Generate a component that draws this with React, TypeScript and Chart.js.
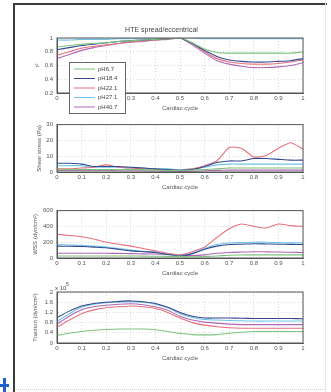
import React, { useEffect, useRef } from "react";
import { Chart, registerables } from "chart.js";

Chart.register(...registerables);

const FONT = "'Liberation Sans', Arial, sans-serif";

const CYCLE = [0, 0.05, 0.1, 0.15, 0.2, 0.25, 0.3, 0.35, 0.4, 0.45, 0.5, 0.55, 0.6, 0.65, 0.7, 0.75, 0.8, 0.85, 0.9, 0.95, 1];
const SERIES_NAMES = ["pH6.7", "pH18.4", "pH22.1", "pH27.1", "pH40.7"];
const SERIES_COLORS = ["#7cc47c", "#34488f", "#e6707c", "#6cc4e8", "#b066b6"];
const MAIN_TITLE = "HTE spread/eccentrical";
const X_TITLE = "Cardiac cycle";
const Y_TITLES = ["r²", "Shear stress (Pa)", "WSS (dyn/cm²)", "Traction (dyn/cm²)"];

// Panel 1: r²
const R2_S1 = [0.87, 0.89, 0.91, 0.92, 0.93, 0.95, 0.96, 0.97, 0.98, 0.99, 1, 0.93, 0.84, 0.79, 0.78, 0.78, 0.78, 0.78, 0.78, 0.78, 0.8];
const R2_S2 = [0.83, 0.86, 0.89, 0.91, 0.93, 0.95, 0.96, 0.97, 0.98, 0.99, 1, 0.92, 0.82, 0.73, 0.68, 0.66, 0.65, 0.65, 0.66, 0.67, 0.7];
const R2_S3 = [0.75, 0.8, 0.85, 0.88, 0.9, 0.92, 0.94, 0.96, 0.97, 0.99, 1, 0.92, 0.8, 0.7, 0.65, 0.63, 0.62, 0.62, 0.63, 0.65, 0.68];
const R2_S4 = [0.97, 0.97, 0.98, 0.98, 0.98, 0.99, 0.99, 0.99, 1, 1, 1, 1, 0.99, 0.99, 0.99, 0.99, 0.99, 0.99, 0.99, 0.99, 0.99];
const R2_S5 = [0.7, 0.76, 0.82, 0.86, 0.89, 0.92, 0.94, 0.95, 0.97, 0.98, 1, 0.9, 0.78, 0.67, 0.62, 0.59, 0.57, 0.57, 0.58, 0.6, 0.64];

// Panel 2: shear stress
const SS_S1 = [1.5, 1.5, 1.5, 1.5, 1.5, 1.5, 1.5, 1.5, 1.2, 1, 1, 1.2, 1.5, 2, 2.5, 2.5, 2.5, 2.5, 2.5, 2.5, 2.5];
const SS_S2 = [5.5, 5.5, 5, 3.5, 3.5, 3.5, 3, 2.5, 2, 1.5, 1, 1.5, 3.5, 6, 7, 7, 8.5, 8.5, 8, 7.5, 7.5];
const SS_S3 = [2, 2, 2.5, 3, 4.5, 3, 2.5, 2, 1.5, 1.5, 1, 2, 4, 7, 15.5, 15, 9.5, 10.5, 15, 18.5, 14.5];
const SS_S4 = [4, 4, 4, 3, 3, 3, 2.5, 2.5, 2, 2, 1.5, 2, 3, 4.5, 5, 5, 5, 5, 5, 5, 5];
const SS_S5 = [1, 1, 1, 1, 1, 0.8, 0.8, 0.8, 0.6, 0.5, 0.4, 0.5, 0.8, 1, 1.2, 1.2, 1.2, 1.2, 1.2, 1.2, 1.2];

// Panel 3: WSS
const WSS_S1 = [25, 25, 25, 25, 25, 25, 25, 24, 22, 21, 20, 15, 20, 25, 35, 38, 40, 40, 40, 40, 40];
const WSS_S2 = [150, 148, 145, 138, 130, 110, 90, 80, 70, 45, 25, 55, 110, 150, 170, 175, 180, 178, 175, 172, 170];
const WSS_S3 = [300, 285, 270, 240, 200, 175, 150, 120, 90, 60, 40, 80, 140, 260, 370, 430, 400, 380, 430, 410, 400];
const WSS_S4 = [170, 165, 160, 150, 140, 120, 100, 85, 75, 50, 30, 60, 120, 170, 190, 195, 200, 200, 195, 192, 190];
const WSS_S5 = [60, 60, 60, 60, 60, 58, 55, 52, 50, 45, 40, 30, 40, 60, 70, 75, 80, 78, 75, 72, 70];

// Panel 4: traction (x 10^5)
const TR_S1 = [0.3, 0.38, 0.45, 0.5, 0.53, 0.55, 0.55, 0.55, 0.52, 0.45, 0.38, 0.33, 0.32, 0.33, 0.38, 0.42, 0.45, 0.45, 0.45, 0.45, 0.45];
const TR_S2 = [1.0, 1.25, 1.45, 1.55, 1.6, 1.63, 1.65, 1.62, 1.55, 1.4, 1.2, 1.05, 0.98, 0.98, 0.98, 0.97, 0.96, 0.96, 0.96, 0.96, 0.95];
const TR_S3 = [0.62, 0.9, 1.15, 1.3, 1.38, 1.42, 1.45, 1.42, 1.35, 1.2, 0.98, 0.8, 0.7, 0.64, 0.6, 0.58, 0.58, 0.58, 0.58, 0.58, 0.58];
const TR_S4 = [0.85, 1.15, 1.4, 1.52, 1.58, 1.6, 1.62, 1.6, 1.52, 1.38, 1.15, 1.0, 0.92, 0.9, 0.88, 0.87, 0.86, 0.86, 0.86, 0.86, 0.86];
const TR_S5 = [0.75, 1.05, 1.3, 1.42, 1.48, 1.52, 1.54, 1.5, 1.42, 1.28, 1.05, 0.9, 0.82, 0.78, 0.74, 0.72, 0.72, 0.72, 0.72, 0.72, 0.72];

const CANVAS_LEFT = 20;
const CANVAS_W = 300;

const fmt = (v: any) => String(Math.round(Number(v) * 1000) / 1000);

const framePlugin = {
  id: "frame",
  afterDatasetsDraw(chart: any) {
    const { ctx, chartArea: a } = chart;
    ctx.save();
    ctx.strokeStyle = "#555";
    ctx.lineWidth = 1;
    ctx.strokeRect(a.left, a.top, a.right - a.left, a.bottom - a.top);
    ctx.restore();
  },
};

const legendPlugin = {
  id: "boxLegend",
  afterDraw(chart: any) {
    const ctx = chart.ctx;
    const bx = 49, by = 44, bw = 56, bh = 51;
    ctx.save();
    ctx.fillStyle = "#fff";
    ctx.fillRect(bx, by, bw, bh);
    ctx.strokeStyle = "#666";
    ctx.lineWidth = 1;
    ctx.strokeRect(bx + 0.5, by + 0.5, bw, bh);
    ctx.font = `6px ${FONT}`;
    ctx.textBaseline = "middle";
    chart.data.datasets.forEach((ds: any, i: number) => {
      const y = by + 7 + i * 9.5;
      ctx.strokeStyle = ds.borderColor;
      ctx.lineWidth = 1;
      ctx.beginPath();
      ctx.moveTo(bx + 5, y);
      ctx.lineTo(bx + 26, y);
      ctx.stroke();
      ctx.fillStyle = "#444";
      ctx.fillText(ds.label, bx + 29, y);
    });
    ctx.restore();
  },
};

const exponentPlugin = {
  id: "exponent",
  afterDraw(chart: any) {
    const ctx = chart.ctx;
    ctx.save();
    ctx.fillStyle = "#444";
    ctx.font = `6px ${FONT}`;
    ctx.textBaseline = "alphabetic";
    ctx.fillText("x 10", 35, 10);
    ctx.font = `5px ${FONT}`;
    ctx.fillText("5", 46, 6);
    ctx.restore();
  },
};

type PanelCfg = {
  series: number[][];
  yMin: number;
  yMax: number;
  yStep: number;
  yTitle: string;
  yTitlePad: number;
  padTop: number;
  title?: string;
  plugins: any[];
};

function buildConfig(cfg: PanelCfg): any {
  const tickFont = { size: 6, family: FONT };
  return {
    type: "line",
    data: {
      datasets: cfg.series.map((vals, i) => ({
        label: SERIES_NAMES[i],
        data: vals.map((v, j) => ({ x: CYCLE[j], y: v })),
        borderColor: SERIES_COLORS[i],
        backgroundColor: SERIES_COLORS[i],
        borderWidth: 1.1,
        pointRadius: 0,
        tension: 0.2,
        fill: false,
      })),
    },
    options: {
      responsive: false,
      animation: false,
      devicePixelRatio: 1,
      layout: { padding: { top: cfg.padTop, right: 17, bottom: 2, left: 0 } },
      plugins: {
        legend: { display: false },
        tooltip: { enabled: false },
        title: cfg.title
          ? {
              display: true,
              text: cfg.title,
              color: "#444",
              font: { size: 7, family: FONT, weight: "normal" },
              padding: { top: 7.6, bottom: 4 },
            }
          : { display: false },
      },
      scales: {
        x: {
          type: "linear",
          min: 0,
          max: 1,
          afterFit: (s: any) => {
            s.height = 20;
          },
          ticks: {
            stepSize: 0.1,
            autoSkip: false,
            maxRotation: 0,
            font: tickFont,
            color: "#555",
            padding: 1.5,
            callback: fmt,
          },
          grid: { color: "#cfcfcf", drawTicks: false, lineWidth: 0.8 },
          border: { display: true, color: "#555", dash: [1, 2] },
          title: {
            display: true,
            text: X_TITLE,
            color: "#555",
            font: tickFont,
            padding: { top: 0, bottom: 1 },
          },
        },
        y: {
          type: "linear",
          min: cfg.yMin,
          max: cfg.yMax,
          afterFit: (s: any) => {
            s.width = 37;
          },
          ticks: {
            stepSize: cfg.yStep,
            font: tickFont,
            color: "#555",
            padding: 4,
            callback: fmt,
          },
          grid: { color: "#cfcfcf", drawTicks: false, lineWidth: 0.8 },
          border: { display: true, color: "#555", dash: [1, 2] },
          title: {
            display: true,
            text: cfg.yTitle,
            color: "#555",
            font: tickFont,
            padding: { top: cfg.yTitlePad, bottom: 0 },
          },
        },
      },
    },
    plugins: [framePlugin, ...cfg.plugins],
  };
}

function Panel({ top, height, cfg }: { top: number; height: number; cfg: PanelCfg }) {
  const ref = useRef<HTMLCanvasElement>(null);
  useEffect(() => {
    const chart = new Chart(ref.current as HTMLCanvasElement, buildConfig(cfg));
    return () => chart.destroy();
  }, []);
  return (
    <div style={{ position: "absolute", left: CANVAS_LEFT, top, width: CANVAS_W, height }}>
      <canvas ref={ref} width={CANVAS_W} height={height} style={{ display: "block", width: CANVAS_W, height }} />
    </div>
  );
}

export default function App() {
  const panels: { top: number; height: number; cfg: PanelCfg }[] = [
    {
      top: 18,
      height: 97,
      cfg: {
        series: [R2_S1, R2_S2, R2_S3, R2_S4, R2_S5],
        yMin: 0.2, yMax: 1, yStep: 0.2,
        yTitle: Y_TITLES[0], yTitlePad: 13.4, padTop: 0,
        title: MAIN_TITLE,
        plugins: [legendPlugin],
      },
    },
    {
      top: 117,
      height: 77,
      cfg: {
        series: [SS_S1, SS_S2, SS_S3, SS_S4, SS_S5],
        yMin: 0, yMax: 30, yStep: 10,
        yTitle: Y_TITLES[1], yTitlePad: 15.4, padTop: 6,
        plugins: [],
      },
    },
    {
      top: 203,
      height: 77,
      cfg: {
        series: [WSS_S1, WSS_S2, WSS_S3, WSS_S4, WSS_S5],
        yMin: 0, yMax: 600, yStep: 200,
        yTitle: Y_TITLES[2], yTitlePad: 11.4, padTop: 6,
        plugins: [],
      },
    },
    {
      top: 280,
      height: 85,
      cfg: {
        series: [TR_S1, TR_S2, TR_S3, TR_S4, TR_S5],
        yMin: 0, yMax: 2, yStep: 0.4,
        yTitle: Y_TITLES[3], yTitlePad: 11.4, padTop: 12,
        plugins: [exponentPlugin],
      },
    },
  ];
  return (
    <div style={{ position: "absolute", left: 0, top: 0, width: 331, height: 392, background: "#fff", overflow: "hidden" }}>
      <div style={{ position: "absolute", left: 13, top: 3, width: 2, height: 389, background: "#3a3a3a" }} />
      <div style={{ position: "absolute", left: 13, top: 3, width: 314, height: 2, background: "#3a3a3a" }} />
      <div style={{ position: "absolute", left: 325, top: 0, width: 1, height: 392, background: "#e8e8e8" }} />
      <div style={{ position: "absolute", left: 16, top: 389, width: 309, height: 0, borderTop: "1px dotted #cfcfcf" }} />
      <div style={{ position: "absolute", left: 0, top: 384, width: 9, height: 3, background: "#1f5fc8" }} />
      <div style={{ position: "absolute", left: 3, top: 378, width: 3, height: 14, background: "#1f5fc8" }} />
      {panels.map((p, i) => (
        <Panel key={i} top={p.top} height={p.height} cfg={p.cfg} />
      ))}
    </div>
  );
}
